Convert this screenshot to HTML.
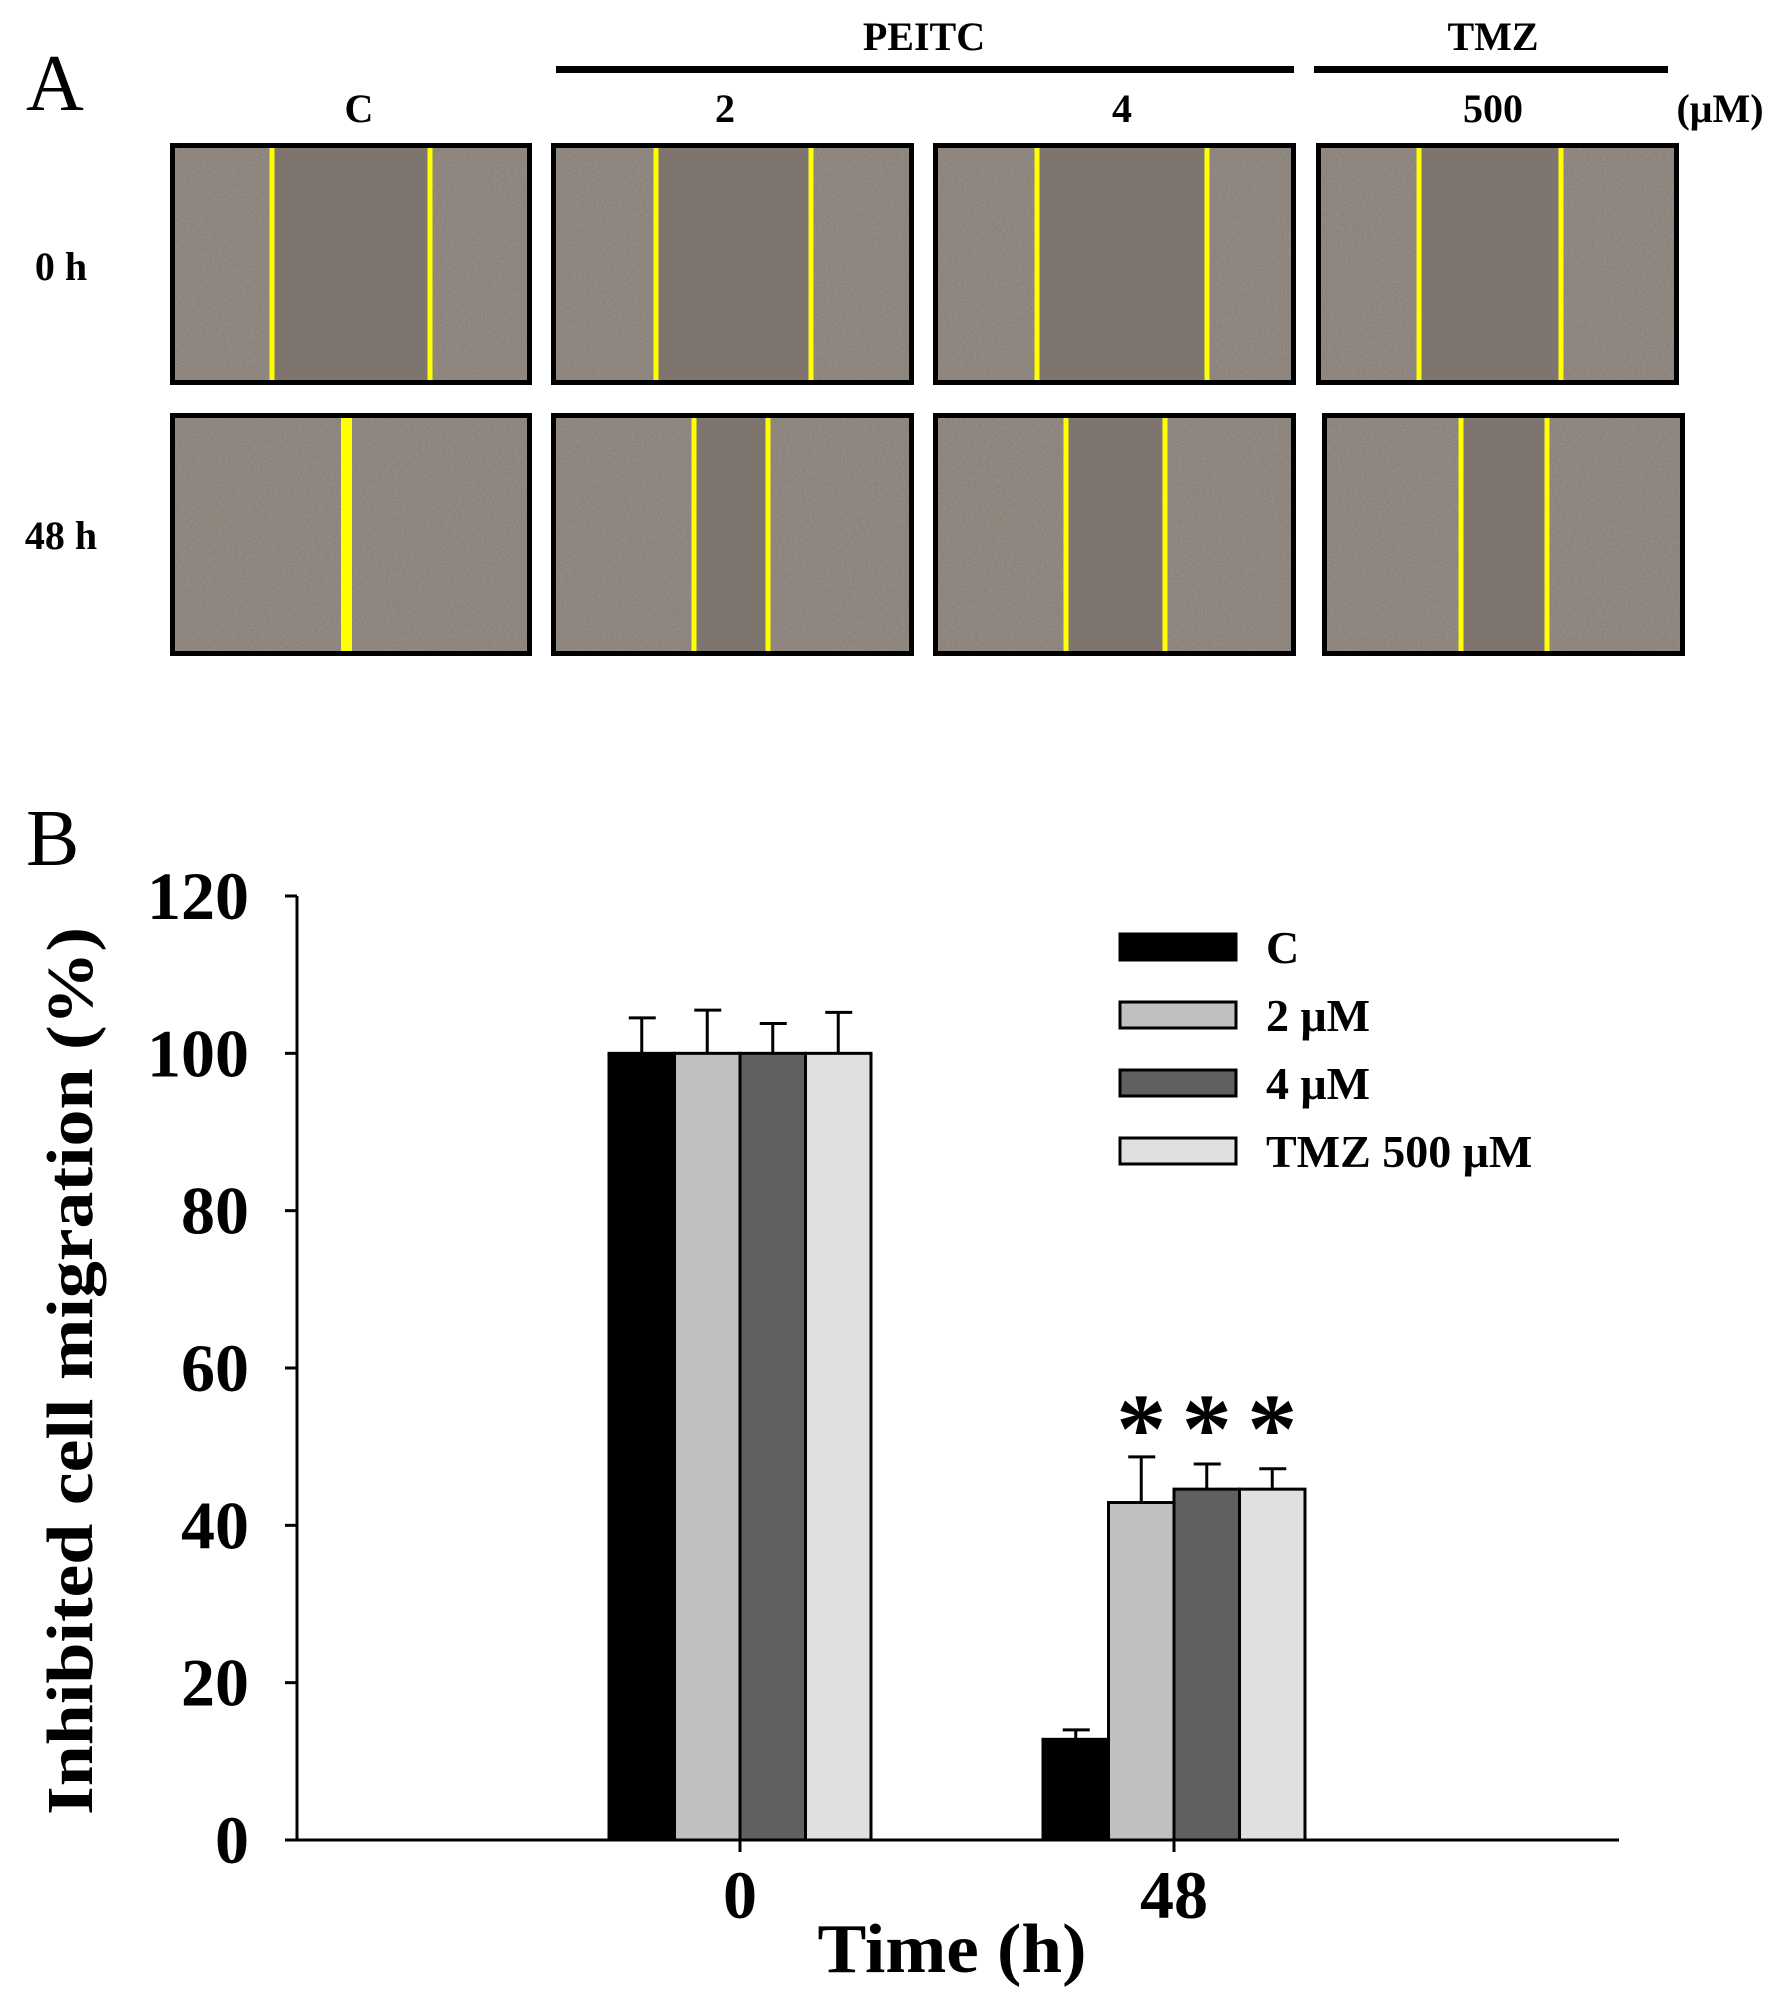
<!DOCTYPE html>
<html><head><meta charset="utf-8"><style>
html,body{margin:0;padding:0;background:#fff;}
svg{display:block;font-family:"Liberation Serif",serif;font-weight:bold;}
</style></head><body>
<svg id="fig" width="1772" height="1992" viewBox="0 0 1772 1992">
<defs>
<filter id="grain" x="0" y="0" width="100%" height="100%">
<feTurbulence type="fractalNoise" baseFrequency="0.55" numOctaves="2" seed="3"/>
<feColorMatrix type="matrix" values="0 0 0 0 0.3  0 0 0 0 0.28  0 0 0 0 0.26  1.8 0 0 0 -0.6"/>
</filter>
</defs>
<g id="panelA">
<text x="26" y="110" font-size="80" font-weight="normal">A</text>
<rect x="556" y="66" width="738" height="7" fill="#000"/>
<rect x="1314" y="66" width="354" height="7" fill="#000"/>
<text x="924" y="50" font-size="40" text-anchor="middle">PEITC</text>
<text x="1493" y="50" font-size="40" text-anchor="middle">TMZ</text>
<text x="359" y="122" font-size="40" text-anchor="middle">C</text>
<text x="725" y="122" font-size="40" text-anchor="middle">2</text>
<text x="1122" y="122" font-size="40" text-anchor="middle">4</text>
<text x="1493" y="122" font-size="40" text-anchor="middle">500</text>
<text x="1720" y="122" font-size="40" text-anchor="middle">(μM)</text>
<text x="61" y="280" font-size="40" text-anchor="middle">0 h</text>
<text x="61" y="549" font-size="40" text-anchor="middle">48 h</text>
<g id="micro"></g>
</g>
<g id="panelB">
<text x="26" y="865" font-size="80" font-weight="normal">B</text>
<g id="chart"></g>
</g>
</svg>
<script>
// Chart data
const groups = ["0", "48"];
const series = ["C", "2 μM", "4 μM", "TMZ 500 μM"];
const valsC = [100, 12.8];
const vals2 = [100, 42.9];
const vals4 = [100, 44.6];
const valsTMZ = [100, 44.6];
const errC = [4.5, 1.2];
const err2 = [5.5, 5.8];
const err4 = [3.8, 3.2];
const errTMZ = [5.2, 2.6];
const yTicks = [0, 20, 40, 60, 80, 100, 120];
const starred = [[false, false], [false, true], [false, true], [false, true]];

const NS = "http://www.w3.org/2000/svg";
function mk(tag, attrs, parent, txt) {
  const e = document.createElementNS(NS, tag);
  for (const k in attrs) e.setAttribute(k, attrs[k]);
  if (txt !== undefined) e.textContent = txt;
  parent.appendChild(e);
  return e;
}

// Micrographs
const micro = document.getElementById('micro');
const boxes = [
  {x:170,y:143,w:362,h:242,lines:[272,430]},
  {x:551,y:143,w:363,h:242,lines:[656,811]},
  {x:933,y:143,w:363,h:242,lines:[1037,1207]},
  {x:1316,y:143,w:363,h:242,lines:[1419,1561]},
  {x:170,y:413,w:362,h:243,lines:[346]},
  {x:551,y:413,w:363,h:243,lines:[694,768]},
  {x:933,y:413,w:363,h:243,lines:[1066,1165]},
  {x:1322,y:413,w:363,h:243,lines:[1461,1547]}
];
boxes.forEach((b, i) => {
  const g = mk('g', {}, micro);
  
  
  mk('rect', {x:b.x, y:b.y, width:b.w, height:b.h, fill:'#8b8279'}, g);
  mk('rect', {x:b.x, y:b.y, width:b.w, height:b.h, filter:'url(#grain)'}, g);
  if (b.lines.length === 2) {
    mk('rect', {x:b.lines[0], y:b.y, width:b.lines[1]-b.lines[0], height:b.h, fill:'#7e766e'}, g);
  }
  b.lines.forEach(lx => {
    const l = mk('rect', {x:lx-(b.lines.length===1?5:2.5), y:b.y+3, width:(b.lines.length===1?11:5), height:b.h-6, fill:'#ffff00'}, g);
    
    
  });
  mk('rect', {x:b.x+2.5, y:b.y+2.5, width:b.w-5, height:b.h-5, fill:'none', stroke:'#000', 'stroke-width':5}, g);
});

// Bar chart
const chart = document.getElementById('chart');
const X0 = 297, X1 = 1619, Y0 = 1840, Y120 = 896;
const yScale = v => Y0 - (v / 120) * (Y0 - Y120);
const groupCenter = [740, 1174];
const xScale = gi => groupCenter[0] + gi * (groupCenter[1] - groupCenter[0]);
const barW = 65.5;
const fills = ['#000000', '#c0c0c0', '#606060', '#e0e0e0'];
const allVals = [valsC, vals2, vals4, valsTMZ];
const allErr = [errC, err2, err4, errTMZ];

const ya = mk('line', {x1:X0, y1:Y120, x2:X0, y2:Y0, stroke:'#000', 'stroke-width':3}, chart);


const xa = mk('line', {x1:X0-12, y1:Y0, x2:X1, y2:Y0, stroke:'#000', 'stroke-width':3}, chart);


yTicks.forEach(t => {
  const y = yScale(t);
  const tk = mk('line', {x1:X0-12, y1:y, x2:X0, y2:y, stroke:'#000', 'stroke-width':3}, chart);
  
  
  const tl = mk('text', {x:249, y:y+23, 'font-size':68, 'text-anchor':'end'}, chart, String(t));
  
  
});
groups.forEach((g, gi) => {
  const x = xScale(gi);
  const tk = mk('line', {x1:x, y1:Y0, x2:x, y2:Y0+12, stroke:'#000', 'stroke-width':3}, chart);
  
  
  const tl = mk('text', {x:x, y:1918, 'font-size':68, 'text-anchor':'middle'}, chart, g);
  
  
});
const xt = mk('text', {x:952, y:1972, 'font-size':70, 'text-anchor':'middle', textLength:269, lengthAdjust:'spacingAndGlyphs'}, chart, 'Time (h)');


const yt = mk('text', {x:0, y:0, 'font-size':66, 'text-anchor':'middle', textLength:888, lengthAdjust:'spacingAndGlyphs', transform:'translate(92,1371) rotate(-90)'}, chart, 'Inhibited cell migration (%)');



series.forEach((s, si) => {
  groups.forEach((g, gi) => {
    const v = allVals[si][gi], e = allErr[si][gi];
    const bx = xScale(gi) - 2 * barW + si * barW;
    const top = yScale(v);
    const r = mk('rect', {x:bx, y:top, width:barW, height:Y0-top, fill:fills[si], stroke:'#000', 'stroke-width':3}, chart);
    
    
    const cx = bx + barW / 2, ey = yScale(v + e);
    const eb = mk('path', {d:`M${cx},${top} V${ey} M${cx-13},${ey} H${cx+14}`, stroke:'#000', 'stroke-width':3, fill:'none'}, chart);
    
    
    if (starred[si][gi]) {
      const st = mk('text', {x:cx, y:1462, 'font-size':100, 'text-anchor':'middle'}, chart, '*');
      
      
    }
  });
});

const legY = [947, 1015, 1083, 1151];
series.forEach((s, si) => {
  const g = mk('g', {}, chart);
  
  
  mk('rect', {x:1120, y:legY[si]-13, width:116, height:26, fill:fills[si], stroke:'#000', 'stroke-width':3}, g);
  mk('text', {x:1266, y:legY[si]+16, 'font-size':46}, g, s);
});
</script>
</body></html>
